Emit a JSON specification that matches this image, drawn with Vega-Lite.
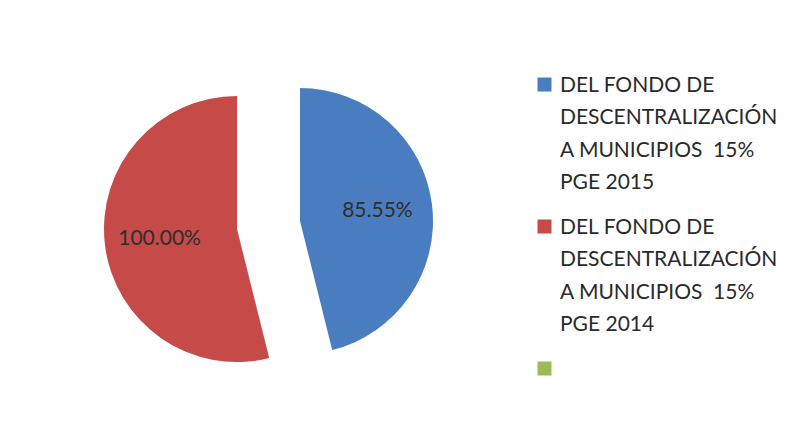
{
  "$schema": "https://vega.github.io/schema/vega-lite/v6.json",
  "width": 189,
  "height": 24,
  "autosize": "none",
  "padding": {"left": 174, "top": 213, "right": 434, "bottom": 208},
  "background": "#ffffff",
  "config": {
    "view": {"stroke": null},
    "style": {"guide-label": {"lineHeight": 32.5}}
  },
  "data": {
    "values": [
      {"series": "DEL FONDO DE\nDESCENTRALIZACIÓN\nA MUNICIPIOS\u00a0 15%\nPGE 2015", "value": 85.55, "label": "85.55%"},
      {"series": "DEL FONDO DE\nDESCENTRALIZACIÓN\nA MUNICIPIOS\u00a0 15%\nPGE 2014", "value": 100.0, "label": "100.00%"}
    ]
  },
  "encoding": {
    "theta": {"field": "value", "type": "quantitative", "stack": true},
    "order": {"field": "series", "sort": "descending"},
    "x": {"field": "series", "type": "nominal", "axis": null, "sort": "ascending",
          "scale": {"type": "point", "padding": 1}},
    "y": {"field": "series", "type": "nominal", "axis": null, "sort": "descending",
          "scale": {"type": "point", "padding": 1}}
  },
  "layer": [
    {
      "mark": {"type": "arc", "outerRadius": 133},
      "encoding": {
        "color": {
          "field": "series", "type": "nominal",
          "scale": {
            "domain": [
              "DEL FONDO DE\nDESCENTRALIZACIÓN\nA MUNICIPIOS\u00a0 15%\nPGE 2015",
              "DEL FONDO DE\nDESCENTRALIZACIÓN\nA MUNICIPIOS\u00a0 15%\nPGE 2014",
              ""
            ],
            "range": ["#4a7dc0", "#c54a48", "#9bbb59"]
          },
          "legend": {
            "title": null,
            "orient": "none",
            "legendX": 360,
            "legendY": -149,
            "padding": 0,
            "symbolType": "M-1,0.43L1,0.43L1,2.43L-1,2.43Z",
            "symbolSize": 196,
            "symbolStrokeWidth": 0,
            "labelFont": "Lato",
            "labelFontSize": 21,
            "labelColor": "#2a2a2a",
            "labelBaseline": "top",
            "labelLimit": 0,
            "labelOffset": 5,
            "rowPadding": 13,
            "labelExpr": "split(datum.label, '\\n')"
          }
        }
      }
    },
    {
      "mark": {"type": "text", "radius": 78, "font": "Lato", "fontSize": 21, "fill": "#2e2e2e"},
      "encoding": {
        "text": {"field": "label"}
      }
    }
  ]
}
